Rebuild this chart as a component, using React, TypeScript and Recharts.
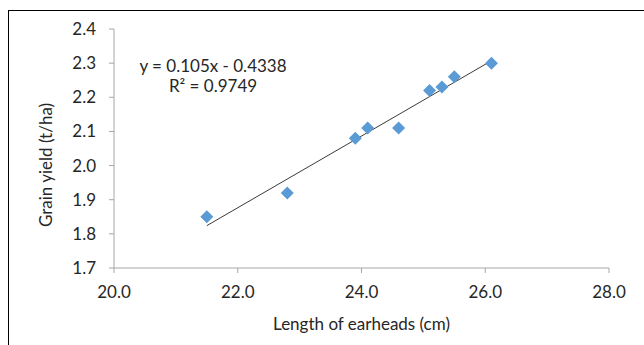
import { ScatterChart, Scatter, XAxis, YAxis, ReferenceLine } from "recharts";

// earhead length (cm) vs grain yield (t/ha)
const earheadLength = [21.5, 22.8, 23.9, 24.1, 24.6, 25.1, 25.3, 25.5, 26.1];
const grainYield = [1.85, 1.92, 2.08, 2.11, 2.11, 2.22, 2.23, 2.26, 2.3];

// linear trendline ends, as drawn in the picture
const trendX = [21.5, 26.1];
const trendY = [1.824, 2.307];

const xTicks = [20, 22, 24, 26, 28];
const yTicks = [1.7, 1.8, 1.9, 2.0, 2.1, 2.2, 2.3, 2.4];

const FONT = "Lato, 'Open Sans', sans-serif";
const TEXT = "#262626";
const AXIS = "#a6a6a6";
const BLUE = "#5b9bd5";

const points = earheadLength.map((x, i) => ({ x, y: grainYield[i] }));

function Diamond(props: any) {
  const { cx, cy } = props;
  const r = 6.5;
  return (
    <polygon
      points={`${cx},${cy - r} ${cx + r},${cy} ${cx},${cy + r} ${cx - r},${cy}`}
      fill={BLUE}
    />
  );
}

export default function App() {
  return (
    <div
      style={{
        position: "fixed",
        left: 8,
        top: 10,
        width: 636,
        height: 335,
        boxSizing: "border-box",
        borderTop: "1px solid #000",
        borderLeft: "1px solid #000",
        fontFamily: FONT,
        background: "#fff",
      }}
    >
      <ScatterChart width={635} height={334} margin={{ top: 18, right: 35, bottom: 0, left: 45 }}>
        <XAxis
          type="number"
          dataKey="x"
          domain={[20, 28]}
          ticks={xTicks}
          tickFormatter={(v) => Number(v).toFixed(1)}
          stroke={AXIS}
          tickSize={5}
          tickMargin={13}
          height={77}
          tick={{ fill: TEXT, fontSize: 17, fontFamily: FONT }}
          label={{
            content: (p: any) => (
              <text
                x={p.viewBox.x + p.viewBox.width / 2}
                y={p.viewBox.y + 55}
                textAnchor="middle"
                dominantBaseline="central"
                fill={TEXT}
                fontSize={17}
                fontFamily={FONT}
              >
                Length of earheads (cm)
              </text>
            ),
          }}
        />
        <YAxis
          type="number"
          dataKey="y"
          domain={[1.7, 2.4]}
          ticks={yTicks}
          tickFormatter={(v) => Number(v).toFixed(1)}
          stroke={AXIS}
          tickSize={5}
          tickMargin={13}
          width={60}
          tick={{ fill: TEXT, fontSize: 17, fontFamily: FONT }}
          label={{
            content: (p: any) => {
              const x = p.viewBox.x - 9;
              const y = 154;
              return (
                <text
                  x={x}
                  y={y}
                  transform={`rotate(-90, ${x}, ${y})`}
                  textAnchor="middle"
                  dominantBaseline="central"
                  fill={TEXT}
                  fontSize={17}
                  fontFamily={FONT}
                >
                  Grain yield (t/ha)
                </text>
              );
            },
          }}
        />
        <ReferenceLine
          segment={[
            { x: trendX[0], y: trendY[0] },
            { x: trendX[1], y: trendY[1] },
          ]}
          stroke="#3a3a3a"
          strokeWidth={1}
        />
        <Scatter data={points} fill={BLUE} shape={Diamond} isAnimationActive={false} />
      </ScatterChart>
      <div
        style={{
          position: "absolute",
          left: 113 - 9,
          top: 56 - 11,
          width: 200,
          textAlign: "center",
          color: TEXT,
          fontSize: 17,
          lineHeight: "20px",
        }}
      >
        <div>y = 0.105x - 0.4338</div>
        <div>R² = 0.9749</div>
      </div>
    </div>
  );
}
